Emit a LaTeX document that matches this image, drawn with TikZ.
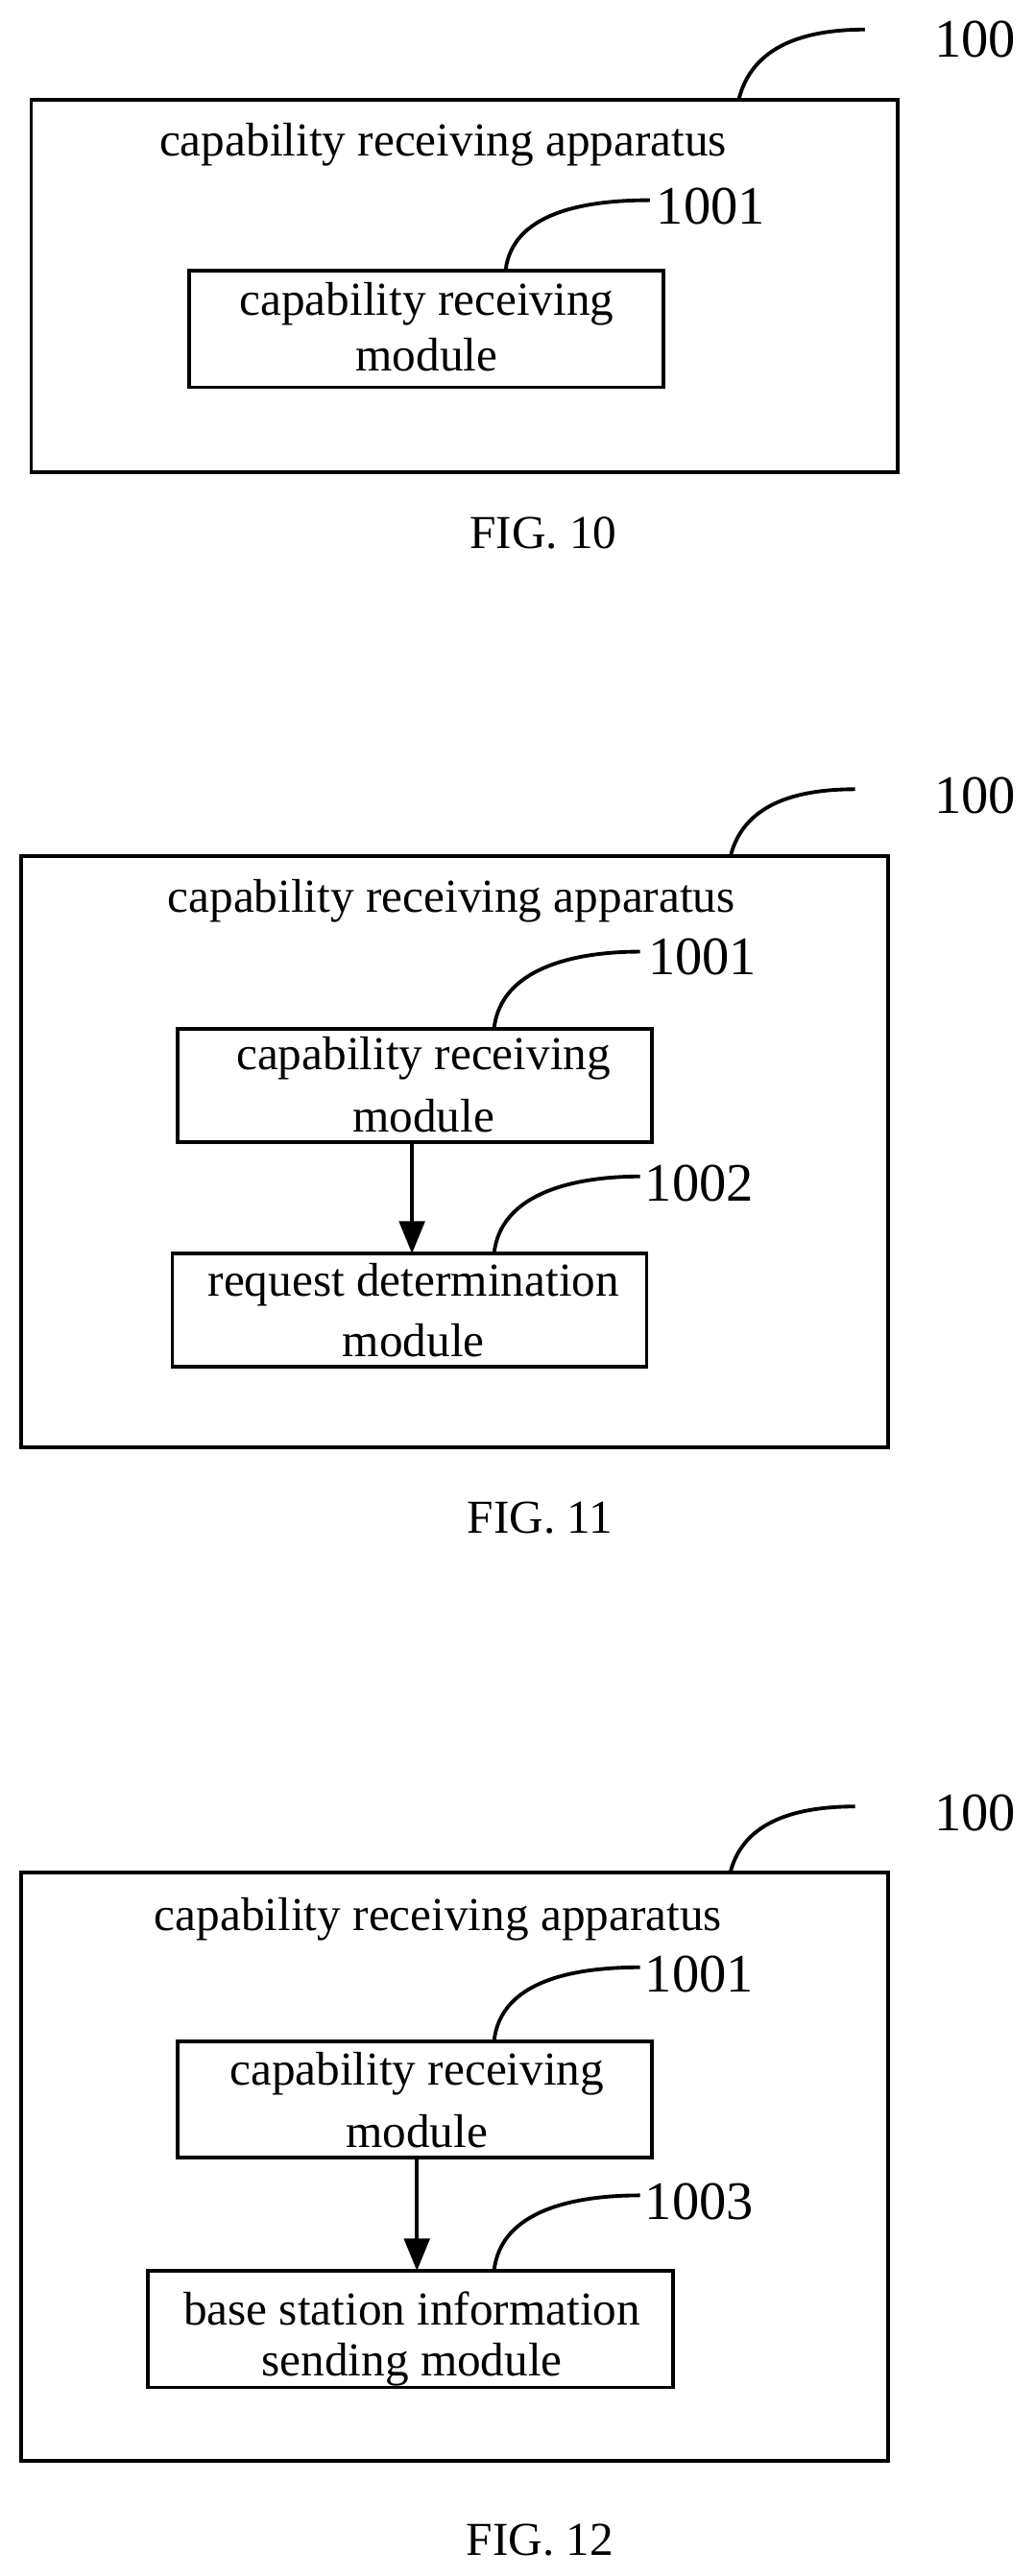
\documentclass[tikz,border=0pt]{standalone}
\usepackage{fontspec}
\setmainfont{Liberation Serif}
\usetikzlibrary{arrows.meta}
\begin{document}
\begin{tikzpicture}[x=0.05cm,y=-0.05cm,
  box/.style={draw,line width=3.2pt},
  txt/.style={font=\fontsize{41}{48}\selectfont,inner sep=0},
  num/.style={font=\fontsize{47}{54}\selectfont,inner sep=0},
  lead/.style={line width=3.2pt},
  arr/.style={line width=3.2pt,-{Triangle[length=28pt,width=22pt]}}]
\useasboundingbox (0,0) rectangle (630,1570);
% FIG 10
\draw[box] (19,61) rectangle (547,288);
\node[txt] at (270,88) {capability receiving apparatus};
\draw[box] (115,165) rectangle (404,236);
\node[txt] at (260,185) {capability receiving};
\node[txt] at (260,216) {module};
\node[num] (n100a) at (594,24) {100};
\coordinate (a1) at (450,61); \coordinate (a2) at (527,18);
\draw[lead] (a1) .. controls (458,28) and (490,18) .. (a2);
\node[num] (n1001a) at (433,126) {1001};
\coordinate (b1) at (308,165); \coordinate (b2) at (396,122);
\draw[lead] (b1) .. controls (312,130) and (355,122) .. (b2);
\node[txt] at (331,325) {FIG. 10};
% FIG 11
\draw[box] (13,522) rectangle (541,882);
\node[txt] at (275,549) {capability receiving apparatus};
\node[num] at (594,485) {100};
\coordinate (c1) at (445,522); \coordinate (c2) at (521,481);
\draw[lead] (c1) .. controls (453,490) and (485,481) .. (c2);
\draw[box] (108,627) rectangle (397,696);
\node[txt] at (258,645) {capability receiving};
\node[txt] at (258,680) {module};
\node[num] at (428,583) {1001};
\coordinate (d1) at (301,627); \coordinate (d2) at (390,580);
\draw[lead] (d1) .. controls (305,590) and (350,580) .. (d2);
\coordinate (e1) at (251,696); \coordinate (e2) at (251,764);
\draw[arr] (e1) -- (e2);
\draw[box] (105,764) rectangle (394,833);
\node[txt] at (252,783) {request determination};
\node[txt] at (252,817) {module};
\node[num] at (426,721) {1002};
\coordinate (f1) at (301,764); \coordinate (f2) at (390,717);
\draw[lead] (f1) .. controls (305,727) and (350,717) .. (f2);
\node[txt] at (329,925) {FIG. 11};
% FIG 12
\draw[box] (13,1141) rectangle (541,1500);
\node[txt] at (267,1170) {capability receiving apparatus};
\node[num] at (594,1105) {100};
\coordinate (g1) at (445,1141); \coordinate (g2) at (521,1101);
\draw[lead] (g1) .. controls (453,1110) and (485,1101) .. (g2);
\draw[box] (108,1244) rectangle (397,1315);
\node[txt] at (254,1264) {capability receiving};
\node[txt] at (254,1299) {module};
\node[num] at (426,1203) {1001};
\coordinate (h1) at (301,1244); \coordinate (h2) at (390,1199);
\draw[lead] (h1) .. controls (305,1207) and (350,1199) .. (h2);
\coordinate (i1) at (254,1315); \coordinate (i2) at (254,1384);
\draw[arr] (i1) -- (i2);
\draw[box] (90,1384) rectangle (410,1455);
\node[txt] at (251,1407) {base station information};
\node[txt] at (251,1441) {sending module};
\node[num] at (426,1342) {1003};
\coordinate (j1) at (301,1384); \coordinate (j2) at (390,1338);
\draw[lead] (j1) .. controls (305,1347) and (350,1338) .. (j2);
\node[txt] at (329,1548) {FIG. 12};
\end{tikzpicture}
\end{document}
